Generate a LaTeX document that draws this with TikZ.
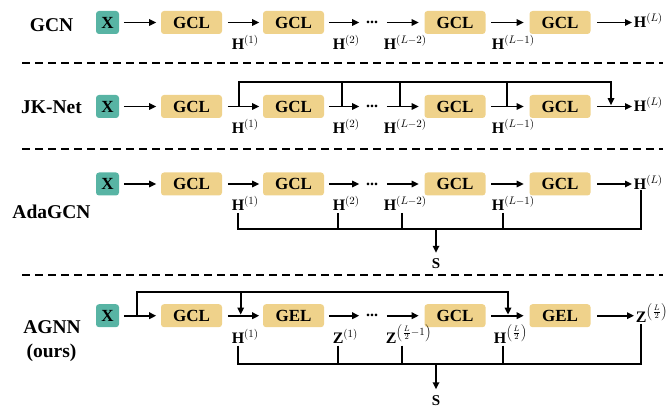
\documentclass[tikz,border=0pt]{standalone}
\usepackage{fontspec}
\setmainfont{Liberation Serif}
\usetikzlibrary{arrows.meta}
\definecolor{xteal}{HTML}{58B4A4}
\definecolor{xgold}{HTML}{EFD28B}
\begin{document}
\begin{tikzpicture}[x=1pt,y=-1pt,
  line width=1.6pt,
  arr/.style={-{Stealth[length=7pt,width=6.5pt,inset=0pt]}},
  gbox/.style={fill=xgold, rounded corners=3pt, minimum width=61pt, minimum height=23pt, inner sep=0pt, font=\fontsize{17}{17}\selectfont\bfseries},
  xbox/.style={fill=xteal, rounded corners=3pt, minimum width=23pt, minimum height=23pt, inner sep=0pt, font=\fontsize{17}{17}\selectfont\bfseries},
  rowlab/.style={anchor=base, inner sep=0pt, font=\fontsize{19.5}{22}\selectfont\bfseries},
  lab/.style={anchor=base west, inner sep=1pt, font=\fontsize{16}{16}\selectfont},
  outlab/.style={anchor=base west, inner sep=0pt, font=\fontsize{16}{16}\selectfont},
  dotsn/.style={anchor=center, inner sep=0pt, font=\fontsize{16}{16}\selectfont\bfseries},
  snode/.style={anchor=base, inner sep=1pt, font=\fontsize{15}{15}\selectfont\bfseries},
  sep/.style={line width=1.5pt, dash pattern=on 8pt off 5pt}
]
\useasboundingbox (0,0) rectangle (667,409);

% ---------- chains ----------
\foreach \r/\y/\ta/\tb in {a/22.5/GCL/GCL, b/106.5/GCL/GCL, c/184/GCL/GCL, d/315.7/GCL/GEL}{
  \node[xbox] (x\r) at (107.5,\y) {X};
  \node[gbox] (g\r1) at (191.5,\y) {\ta};
  \node[gbox] (g\r2) at (293.5,\y) {\tb};
  \node[gbox] (g\r3) at (455,\y) {\ta};
  \node[gbox] (g\r4) at (560,\y) {\tb};
  \node[dotsn] (d\r) at (372,\y) {...};
  \draw[arr, shorten <=4pt, shorten >=4pt] (x\r) -- (g\r1);
  \draw[arr, shorten <=5pt, shorten >=3pt] (g\r1) -- (g\r2);
  \draw[arr, shorten <=4pt, shorten >=6pt] (g\r2) -- (d\r);
  \draw[arr, shorten <=8pt, shorten >=5pt] (d\r) -- (g\r3);
  \draw[arr, shorten <=5pt, shorten >=5pt] (g\r3) -- (g\r4);
}

% ---------- row labels ----------
\node[rowlab] (ra) at (51.5,31.7) {GCN};
\node[rowlab] (rb) at (51.5,113.3) {JK-Net};
\node[rowlab] (rc) at (51.5,218.3) {AdaGCN};
\node[rowlab] (rd) at (52,333.3) {AGNN};
\node[rowlab] (rd2) at (51.5,357.3) {(ours)};

% ---------- outputs ----------
\node[outlab] (oa) at (633,28) {$\mathbf{H}^{(L)}$};
\node[outlab] (ob) at (633,112) {$\mathbf{H}^{(L)}$};
\node[outlab] (oc) at (633,189.5) {$\mathbf{H}^{(L)}$};
\node[outlab] (od) at (635,322.7) {$\mathbf{Z}^{\left(\frac{L}{2}\right)}$};
\foreach \r in {a,b,c,d}{
  \draw[arr, shorten <=6pt, shorten >=1pt] (g\r4) -- (g\r4 -| o\r.west);
}

% ---------- intermediate labels ----------
\foreach \r/\y in {a/49.5, b/133.5, c/211}{
  \node[lab] (l\r1) at (230,\y) {$\mathbf{H}^{(1)}$};
  \node[lab] (l\r2) at (331,\y) {$\mathbf{H}^{(2)}$};
  \node[lab] (l\r3) at (382,\y) {$\mathbf{H}^{(L-2)}$};
  \node[lab] (l\r4) at (490,\y) {$\mathbf{H}^{(L-1)}$};
}
\node[lab] (ld1) at (230,343.7) {$\mathbf{H}^{(1)}$};
\node[lab] (ld2) at (331,343.7) {$\mathbf{Z}^{(1)}$};
\node[lab] (ld3) at (384,343.7) {$\mathbf{Z}^{\left(\frac{L}{2}-1\right)}$};
\node[lab] (ld4) at (492,343.7) {$\mathbf{H}^{\left(\frac{L}{2}\right)}$};

% ---------- JK-Net skip bus ----------
\coordinate (j1) at (239,106.5);
\coordinate (j2) at (342,106.5);
\coordinate (j3) at (400,106.5);
\coordinate (j4) at (507,106.5);
\coordinate (jt) at (611,82);
\coordinate (je) at (611,105.2);
\draw[arr] (j1) |- (jt) -- (je);
\foreach \k in {2,3,4}{ \draw (j\k) -- (j\k |- jt); }

% ---------- AdaGCN aggregation ----------
\coordinate (c1) at (238,229);
\coordinate (c2) at (338,229);
\coordinate (c3) at (402,229);
\coordinate (c4) at (503,229);
\coordinate (c5) at (641,229);
\coordinate (cs) at (436,229);
\draw (c1 |- lc1.south) -- (c1) -- (c5) -- (c5 |- oc.south);
\draw (c2 |- lc2.south) -- (c2);
\draw (c3 |- lc3.south) -- (c3);
\draw (c4 |- lc4.south) -- (c4);
\node[snode] (sc) at (436,268.5) {S};
\draw[arr, shorten >=4pt] (cs) -- (sc);

% ---------- AGNN skip bus ----------
\coordinate (da) at (137,315.7);
\coordinate (dt1) at (240.7,292);
\coordinate (dt2) at (508,292);
\coordinate (de1) at (240.7,314.6);
\coordinate (de2) at (508,314.6);
\draw[arr] (da) |- (dt2) -- (de2);
\draw[arr] (dt1) -- (de1);

% ---------- AGNN aggregation ----------
\coordinate (e1) at (238,364);
\coordinate (e2) at (338,364);
\coordinate (e3) at (402,364);
\coordinate (e4) at (503,364);
\coordinate (e5) at (641,364);
\coordinate (es) at (436,364);
\draw (e1 |- ld1.south) -- (e1) -- (e5) -- (e5 |- od.south);
\draw (e2 |- ld2.south) -- (e2);
\draw (e3 |- ld3.south) -- (e3);
\draw (e4 |- ld4.south) -- (e4);
\node[snode] (sd) at (436,405) {S};
\draw[arr, shorten >=4pt] (es) -- (sd);

% ---------- separators ----------
\coordinate (s1a) at (22,63);   \coordinate (s1b) at (663,63);
\coordinate (s2a) at (22,149);  \coordinate (s2b) at (663,149);
\coordinate (s3a) at (22,275);  \coordinate (s3b) at (663,275);
\draw[sep] (s1a) -- (s1b);
\draw[sep] (s2a) -- (s2b);
\draw[sep] (s3a) -- (s3b);
\end{tikzpicture}
\end{document}
